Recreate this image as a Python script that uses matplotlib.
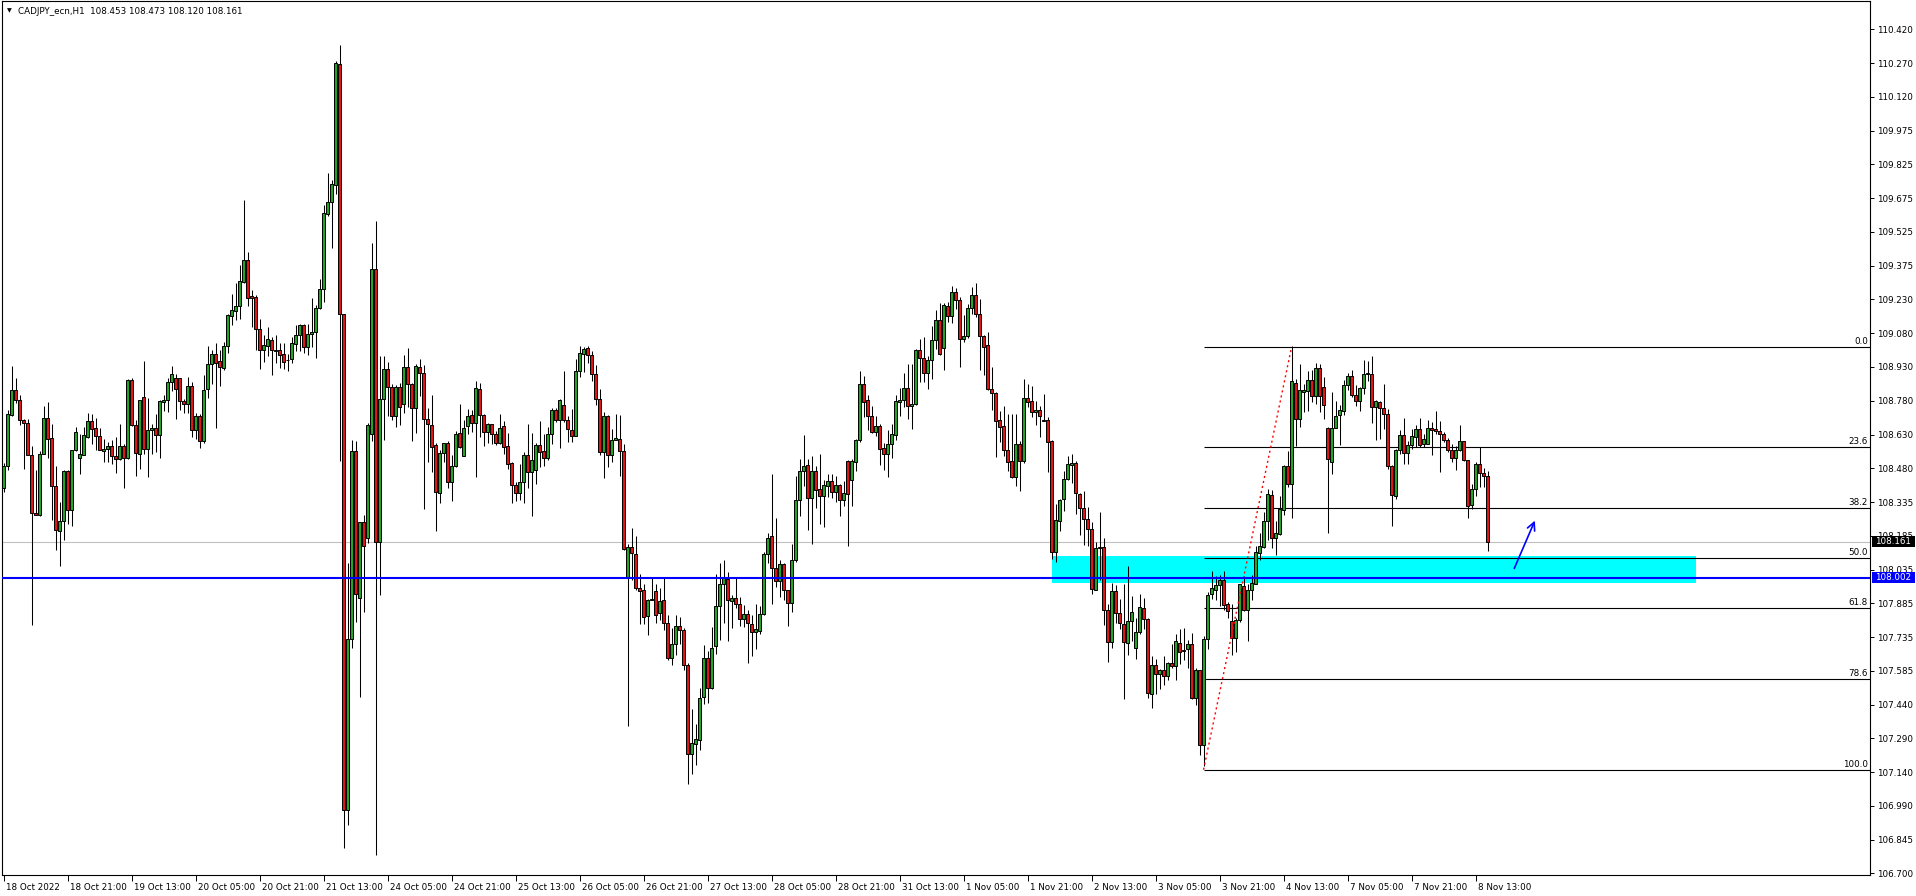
import numpy as np
import matplotlib
matplotlib.use("Agg")
import matplotlib.pyplot as plt
import matplotlib.transforms as mtransforms
from matplotlib.patches import Rectangle

# CADJPY_ecn H1 candles (one value per hourly bar)
title = "CADJPY_ecn,H1  108.453 108.473 108.120 108.161"

opens = [
    108.400, 108.494, 108.719, 108.832, 108.785, 108.697, 108.687, 108.546, 108.290, 108.281,
    108.550, 108.709, 108.621, 108.409, 108.208, 108.252, 108.475, 108.300, 108.565, 108.532,
    108.546, 108.624, 108.693, 108.665, 108.628, 108.562, 108.571, 108.582, 108.538, 108.527,
    108.585, 108.530, 108.876, 108.678, 108.550, 108.800, 108.572, 108.654, 108.665, 108.634,
    108.778, 108.785, 108.864, 108.885, 108.885, 108.781, 108.770, 108.847, 108.656, 108.717,
    108.606, 108.837, 108.947, 108.991, 108.957, 108.928, 109.023, 109.157, 109.179, 109.199,
    109.307, 109.402, 109.243, 109.241, 109.100, 109.009, 109.026, 109.049, 109.007, 109.007,
    108.991, 108.963, 108.967, 109.032, 109.075, 109.118, 109.019, 109.077, 109.084, 109.194,
    109.276, 109.605, 109.661, 109.732, 110.269, 109.166, 106.981, 107.733, 108.563, 107.916,
    108.250, 108.180, 108.636, 109.365, 108.161, 108.792, 108.921, 108.844, 108.717, 108.844,
    108.769, 108.932, 108.855, 108.750, 108.932, 108.904, 108.703, 108.678, 108.587, 108.378,
    108.554, 108.599, 108.425, 108.494, 108.643, 108.540, 108.672, 108.719, 108.685, 108.837,
    108.719, 108.645, 108.679, 108.638, 108.599, 108.670, 108.582, 108.510, 108.413, 108.377,
    108.425, 108.543, 108.469, 108.480, 108.587, 108.560, 108.531, 108.638, 108.741, 108.700,
    108.763, 108.700, 108.653, 108.628, 108.913, 108.991, 109.017, 108.983, 108.903, 108.792,
    108.557, 108.715, 108.546, 108.612, 108.616, 108.562, 108.006, 108.139, 108.109, 107.959,
    107.948, 107.834, 107.905, 107.943, 107.848, 107.904, 107.804, 107.650, 107.713, 107.789,
    107.771, 107.617, 107.228, 107.272, 107.287, 107.478, 107.651, 107.519, 107.701, 107.880,
    107.977, 107.999, 107.901, 107.915, 107.886, 107.823, 107.845, 107.798, 107.764, 107.768,
    107.842, 108.106, 108.186, 108.048, 107.989, 108.065, 107.951, 107.892, 108.083, 108.347,
    108.472, 108.499, 108.356, 108.472, 108.396, 108.363, 108.408, 108.428, 108.381, 108.413,
    108.347, 108.516, 108.435, 108.513, 108.612, 108.859, 108.788, 108.716, 108.645, 108.671,
    108.576, 108.550, 108.594, 108.634, 108.778, 108.785, 108.841, 108.759, 108.767, 109.008,
    108.972, 108.907, 108.964, 109.052, 109.141, 109.017, 109.199, 109.157, 109.263, 109.229,
    109.055, 109.067, 109.193, 109.248, 109.164, 109.067, 109.027, 108.836, 108.819, 108.697,
    108.671, 108.565, 108.516, 108.447, 108.591, 108.518, 108.797, 108.781, 108.734, 108.744,
    108.697, 108.697, 108.604, 108.117, 108.253, 108.349, 108.440, 108.502, 108.510, 108.371,
    108.312, 108.264, 108.219, 107.951, 108.139, 108.139, 107.860, 107.720, 107.943, 107.848,
    107.801, 107.717, 107.813, 107.695, 107.764, 107.871, 107.823, 107.492, 107.620, 107.578,
    107.598, 107.570, 107.627, 107.614, 107.717, 107.686, 107.691, 107.713, 107.473, 107.598,
    107.265, 107.735, 107.933, 107.951, 107.970, 107.992, 107.886, 107.811, 107.739, 107.815,
    107.965, 107.862, 107.948, 107.977, 108.112, 108.139, 108.253, 108.369, 108.178, 108.197,
    108.300, 108.494, 108.418, 108.863, 108.704, 108.822, 108.825, 108.876, 108.803, 108.929,
    108.844, 108.663, 108.513, 108.665, 108.719, 108.738, 108.851, 108.891, 108.810, 108.782,
    108.841, 108.900, 108.903, 108.756, 108.778, 108.753, 108.726, 108.494, 108.363, 108.565,
    108.634, 108.553, 108.590, 108.623, 108.657, 108.594, 108.594, 108.665, 108.657, 108.648,
    108.638, 108.609, 108.568, 108.531, 108.565, 108.604, 108.521, 108.322, 108.396, 108.503,
    108.466, 108.453,
]

highs = [
    108.509, 108.744, 108.935, 108.885, 108.807, 108.704, 108.704, 108.582, 108.477, 108.562,
    108.759, 108.778, 108.679, 108.494, 108.337, 108.480, 108.480, 108.565, 108.668, 108.638,
    108.668, 108.731, 108.726, 108.709, 108.665, 108.616, 108.601, 108.612, 108.624, 108.679,
    108.594, 108.881, 108.885, 108.700, 108.788, 108.957, 108.797, 108.682, 108.723, 108.785,
    108.807, 108.885, 108.935, 108.900, 108.885, 108.792, 108.888, 108.866, 108.729, 108.726,
    108.895, 109.023, 109.006, 109.038, 109.006, 109.042, 109.164, 109.252, 109.302, 109.380,
    109.669, 109.439, 109.270, 109.248, 109.143, 109.072, 109.108, 109.065, 109.072, 109.037,
    109.037, 108.991, 109.065, 109.118, 109.122, 109.122, 109.122, 109.236, 109.206, 109.318,
    109.645, 109.785, 109.757, 110.281, 110.351, 109.166, 108.068, 108.612, 108.605, 108.250,
    108.278, 108.687, 109.477, 109.575, 108.979, 108.979, 108.956, 108.855, 108.851, 108.862,
    108.986, 109.014, 108.862, 108.944, 108.967, 108.939, 108.750, 108.807, 108.597, 108.565,
    108.599, 108.606, 108.543, 108.650, 108.767, 108.700, 108.748, 108.741, 108.869, 108.862,
    108.723, 108.685, 108.682, 108.648, 108.723, 108.694, 108.643, 108.513, 108.425, 108.506,
    108.557, 108.679, 108.643, 108.599, 108.694, 108.635, 108.668, 108.753, 108.753, 108.789,
    108.913, 108.715, 108.745, 108.966, 109.025, 109.020, 109.023, 109.002, 108.939, 108.836,
    108.734, 108.719, 108.660, 108.723, 108.719, 108.594, 108.153, 108.224, 108.186, 108.021,
    107.977, 107.911, 108.003, 107.977, 107.958, 108.003, 107.837, 107.782, 107.837, 107.830,
    107.783, 107.627, 107.423, 107.360, 107.519, 107.705, 107.680, 107.786, 108.018, 108.068,
    108.080, 108.029, 107.929, 108.003, 107.918, 107.882, 107.863, 107.837, 107.886, 107.877,
    108.117, 108.200, 108.459, 108.268, 108.083, 108.068, 107.951, 108.150, 108.450, 108.525,
    108.631, 108.525, 108.538, 108.494, 108.547, 108.435, 108.462, 108.462, 108.450, 108.418,
    108.429, 108.521, 108.528, 108.616, 108.913, 108.891, 108.810, 108.759, 108.715, 108.679,
    108.597, 108.653, 108.679, 108.810, 108.841, 108.906, 108.944, 108.947, 109.010, 109.057,
    109.064, 108.979, 109.111, 109.185, 109.214, 109.216, 109.218, 109.287, 109.282, 109.240,
    109.160, 109.208, 109.285, 109.304, 109.233, 109.072, 109.086, 108.932, 108.822, 108.737,
    108.759, 108.723, 108.723, 108.723, 108.606, 108.880, 108.856, 108.847, 108.782, 108.759,
    108.814, 108.712, 108.609, 108.327, 108.352, 108.474, 108.538, 108.547, 108.516, 108.377,
    108.384, 108.315, 108.249, 108.161, 108.293, 108.180, 107.886, 107.980, 107.970, 107.911,
    107.977, 108.053, 107.921, 107.827, 107.933, 107.915, 107.827, 107.657, 107.647, 107.602,
    107.657, 107.632, 107.713, 107.754, 107.776, 107.783, 107.727, 107.760, 107.607, 107.598,
    107.745, 107.940, 108.031, 108.009, 108.014, 108.031, 107.896, 107.886, 107.827, 107.974,
    108.009, 107.974, 108.014, 108.142, 108.200, 108.293, 108.396, 108.388, 108.253, 108.363,
    108.499, 108.562, 109.023, 108.881, 108.944, 108.859, 108.913, 108.917, 108.951, 108.947,
    108.888, 108.668, 108.822, 108.782, 108.763, 108.873, 108.906, 108.917, 108.851, 108.844,
    108.964, 108.958, 108.979, 108.785, 108.782, 108.859, 108.748, 108.499, 108.572, 108.653,
    108.709, 108.604, 108.660, 108.675, 108.709, 108.635, 108.700, 108.690, 108.737, 108.694,
    108.646, 108.621, 108.594, 108.582, 108.675, 108.604, 108.521, 108.415, 108.513, 108.579,
    108.488, 108.473,
]

lows = [
    108.381, 108.480, 108.715, 108.773, 108.675, 108.484, 108.543, 107.794, 108.278, 108.274,
    108.547, 108.532, 108.256, 108.124, 108.053, 108.171, 108.242, 108.230, 108.560, 108.462,
    108.543, 108.619, 108.591, 108.568, 108.564, 108.513, 108.513, 108.503, 108.465, 108.524,
    108.400, 108.527, 108.670, 108.453, 108.482, 108.550, 108.447, 108.550, 108.557, 108.532,
    108.738, 108.734, 108.826, 108.704, 108.744, 108.729, 108.729, 108.624, 108.616, 108.576,
    108.597, 108.795, 108.858, 108.665, 108.848, 108.917, 108.994, 109.116, 109.141, 109.145,
    109.302, 109.199, 109.108, 109.006, 108.921, 108.956, 108.979, 108.897, 108.949, 108.926,
    108.921, 108.914, 108.949, 109.002, 109.002, 108.995, 108.984, 109.019, 108.972, 109.189,
    109.220, 109.598, 109.458, 109.696, 108.519, 106.813, 106.915, 107.694, 107.810, 107.479,
    107.853, 108.157, 108.605, 106.782, 107.927, 108.612, 108.717, 108.699, 108.668, 108.675,
    108.729, 108.757, 108.605, 108.640, 108.804, 108.308, 108.513, 108.469, 108.209, 108.333,
    108.513, 108.400, 108.341, 108.491, 108.577, 108.540, 108.638, 108.645, 108.447, 108.623,
    108.582, 108.597, 108.594, 108.587, 108.594, 108.550, 108.484, 108.333, 108.341, 108.344,
    108.333, 108.400, 108.274, 108.415, 108.491, 108.494, 108.521, 108.594, 108.690, 108.577,
    108.690, 108.601, 108.601, 108.628, 108.888, 108.910, 108.950, 108.870, 108.763, 108.543,
    108.443, 108.491, 108.513, 108.609, 108.452, 108.127, 107.348, 107.995, 107.948, 107.798,
    107.801, 107.749, 107.904, 107.804, 107.815, 107.771, 107.642, 107.620, 107.661, 107.713,
    107.595, 107.096, 107.140, 107.176, 107.246, 107.448, 107.451, 107.514, 107.666, 107.730,
    107.804, 107.724, 107.782, 107.870, 107.791, 107.786, 107.627, 107.658, 107.688, 107.754,
    107.837, 108.068, 107.886, 107.962, 107.918, 107.907, 107.791, 107.852, 108.073, 108.274,
    108.406, 108.212, 108.153, 108.312, 108.239, 108.227, 108.359, 108.355, 108.337, 108.275,
    108.319, 108.142, 108.319, 108.474, 108.601, 108.712, 108.653, 108.641, 108.626, 108.499,
    108.477, 108.447, 108.531, 108.609, 108.716, 108.756, 108.704, 108.660, 108.763, 108.866,
    108.866, 108.836, 108.881, 109.013, 108.983, 108.920, 109.130, 109.127, 109.186, 108.932,
    109.042, 109.060, 109.167, 109.152, 108.917, 108.898, 108.832, 108.741, 108.535, 108.601,
    108.538, 108.472, 108.443, 108.406, 108.385, 108.509, 108.756, 108.712, 108.675, 108.623,
    108.694, 108.469, 108.087, 108.073, 108.209, 108.297, 108.433, 108.421, 108.286, 108.190,
    108.149, 108.142, 107.933, 107.948, 107.995, 107.793, 107.632, 107.695, 107.804, 107.779,
    107.470, 107.661, 107.724, 107.646, 107.757, 107.779, 107.473, 107.429, 107.492, 107.514,
    107.529, 107.551, 107.607, 107.554, 107.624, 107.639, 107.607, 107.469, 107.444, 107.220,
    107.175, 107.691, 107.911, 107.907, 107.877, 107.862, 107.827, 107.664, 107.676, 107.808,
    107.857, 107.724, 107.907, 107.974, 108.080, 108.136, 108.168, 108.136, 108.105, 108.190,
    108.278, 108.403, 108.266, 108.582, 108.668, 108.734, 108.737, 108.778, 108.767, 108.734,
    108.704, 108.202, 108.459, 108.663, 108.587, 108.719, 108.832, 108.800, 108.759, 108.738,
    108.811, 108.870, 108.685, 108.609, 108.613, 108.660, 108.484, 108.231, 108.352, 108.547,
    108.506, 108.506, 108.572, 108.579, 108.579, 108.579, 108.591, 108.543, 108.635, 108.469,
    108.601, 108.557, 108.513, 108.480, 108.562, 108.516, 108.266, 108.308, 108.362, 108.403,
    108.403, 108.120,
]

closes = [
    108.494, 108.726, 108.832, 108.785, 108.697, 108.687, 108.546, 108.290, 108.281, 108.550,
    108.709, 108.616, 108.409, 108.212, 108.252, 108.472, 108.300, 108.565, 108.646, 108.550,
    108.631, 108.693, 108.660, 108.628, 108.564, 108.572, 108.582, 108.541, 108.527, 108.585,
    108.530, 108.876, 108.675, 108.553, 108.788, 108.572, 108.656, 108.665, 108.634, 108.781,
    108.785, 108.864, 108.903, 108.837, 108.781, 108.770, 108.848, 108.656, 108.717, 108.606,
    108.832, 108.947, 108.991, 108.951, 108.932, 109.023, 109.160, 109.182, 109.199, 109.310,
    109.402, 109.238, 109.236, 109.100, 109.007, 109.030, 109.054, 109.009, 109.002, 108.986,
    108.956, 108.961, 109.037, 109.075, 109.118, 109.019, 109.079, 109.084, 109.194, 109.276,
    109.610, 109.661, 109.739, 110.271, 109.166, 106.981, 107.733, 108.563, 107.932, 108.250,
    108.145, 108.675, 109.365, 108.161, 108.792, 108.921, 108.844, 108.717, 108.844, 108.757,
    108.932, 108.855, 108.750, 108.937, 108.904, 108.703, 108.679, 108.579, 108.381, 108.554,
    108.599, 108.425, 108.494, 108.638, 108.579, 108.665, 108.715, 108.685, 108.841, 108.719,
    108.645, 108.682, 108.638, 108.599, 108.665, 108.579, 108.506, 108.413, 108.377, 108.425,
    108.543, 108.469, 108.521, 108.587, 108.557, 108.531, 108.638, 108.741, 108.700, 108.785,
    108.700, 108.657, 108.628, 108.913, 108.995, 109.013, 108.983, 108.903, 108.792, 108.557,
    108.715, 108.546, 108.612, 108.621, 108.562, 108.131, 108.139, 108.112, 107.958, 107.945,
    107.830, 107.907, 107.911, 107.840, 107.899, 107.804, 107.650, 107.713, 107.789, 107.771,
    107.620, 107.228, 107.276, 107.291, 107.475, 107.651, 107.519, 107.695, 107.880, 107.977,
    108.002, 107.904, 107.915, 107.886, 107.823, 107.845, 107.804, 107.764, 107.776, 107.845,
    108.106, 108.180, 108.048, 107.989, 108.065, 107.951, 107.892, 108.083, 108.347, 108.472,
    108.494, 108.356, 108.472, 108.391, 108.363, 108.410, 108.428, 108.381, 108.410, 108.347,
    108.378, 108.374, 108.516, 108.612, 108.859, 108.778, 108.716, 108.645, 108.671, 108.572,
    108.550, 108.594, 108.635, 108.781, 108.785, 108.841, 108.759, 108.767, 109.005, 108.972,
    108.907, 108.964, 109.052, 109.141, 108.991, 109.204, 109.157, 109.263, 109.229, 109.057,
    109.067, 109.193, 109.248, 109.164, 109.067, 109.020, 108.836, 108.819, 108.694, 108.668,
    108.565, 108.513, 108.447, 108.591, 108.518, 108.797, 108.778, 108.734, 108.744, 108.716,
    108.694, 108.601, 108.117, 108.256, 108.347, 108.440, 108.506, 108.510, 108.377, 108.312,
    108.264, 108.219, 107.955, 108.136, 108.136, 107.860, 107.720, 107.943, 107.848, 107.804,
    107.720, 107.813, 107.852, 107.764, 107.874, 107.823, 107.495, 107.620, 107.580, 107.598,
    107.570, 107.627, 107.613, 107.723, 107.676, 107.680, 107.713, 107.473, 107.598, 107.265,
    107.735, 107.929, 107.958, 107.973, 107.992, 107.882, 107.857, 107.739, 107.815, 107.974,
    107.862, 107.948, 107.980, 108.117, 108.142, 108.253, 108.371, 108.180, 108.202, 108.305,
    108.494, 108.418, 108.869, 108.704, 108.829, 108.829, 108.876, 108.803, 108.929, 108.803,
    108.763, 108.528, 108.665, 108.715, 108.741, 108.851, 108.891, 108.810, 108.782, 108.841,
    108.900, 108.907, 108.756, 108.781, 108.751, 108.726, 108.494, 108.369, 108.565, 108.634,
    108.553, 108.590, 108.626, 108.660, 108.587, 108.613, 108.665, 108.656, 108.650, 108.638,
    108.609, 108.568, 108.531, 108.565, 108.604, 108.521, 108.319, 108.396, 108.503, 108.465,
    108.452, 108.161,
]

# time axis: one label every 16 bars
time_labels = [
    "18 Oct 2022", "18 Oct 21:00", "19 Oct 13:00", "20 Oct 05:00", "20 Oct 21:00",
    "21 Oct 13:00", "24 Oct 05:00", "24 Oct 21:00", "25 Oct 13:00", "26 Oct 05:00",
    "26 Oct 21:00", "27 Oct 13:00", "28 Oct 05:00", "28 Oct 21:00", "31 Oct 13:00",
    "1 Nov 05:00", "1 Nov 21:00", "2 Nov 13:00", "3 Nov 05:00", "3 Nov 21:00",
    "4 Nov 13:00", "7 Nov 05:00", "7 Nov 21:00", "8 Nov 13:00",
]
bars_per_label = 16

price_labels = [
    "106.700", "106.845", "106.990", "107.140", "107.290", "107.440", "107.585",
    "107.735", "107.885", "108.035", "108.185", "108.335", "108.480", "108.630",
    "108.780", "108.930", "109.080", "109.230", "109.375", "109.525", "109.675",
    "109.825", "109.975", "110.120", "110.270", "110.420",
]

# fibonacci retracement drawn from the 3 Nov low to the 4 Nov high
fib_low, fib_high = 107.157, 109.020
fib_low_bar, fib_high_bar = 300, 322
fib_ratios = [0.0, 23.6, 38.2, 50.0, 61.8, 78.6, 100.0]

bid_price = 108.161
support_price = 108.002
zone_bars = (262, 423)
zone_prices = (107.980, 108.098)
arrow_from = (377.4, 108.033)
arrow_to = (383.1, 108.266)

W, H = 1916, 896
FS = 6.3
plt.rcParams["font.family"] = ["DejaVu Sans"]

fig = plt.figure(figsize=(W / 100, H / 100), dpi=100)
fig.patch.set_facecolor("white")
ax = fig.add_axes([2 / W, 21 / H, 1868 / W, 874 / H])

o = np.array(opens)
hi = np.array(highs)
lo = np.array(lows)
c = np.array(closes)
x = np.arange(len(c))

x_left, x_right = -0.375, 466.6
y_low, y_high = 106.693, 110.545
ax.set_xlim(x_left, x_right)
ax.set_ylim(y_low, y_high)

# background objects
ax.add_patch(Rectangle((zone_bars[0], zone_prices[0]), zone_bars[1] - zone_bars[0],
                       zone_prices[1] - zone_prices[0], fc="#00ffff", ec="none", zorder=1))
ax.axhline(bid_price, color="#c0c0c0", lw=0.8, zorder=1.5)

levels = [fib_high - r / 100.0 * (fib_high - fib_low) for r in fib_ratios]
ax.hlines(levels, fib_low_bar, x_right, color="black", lw=0.8, zorder=1.8)
lift = mtransforms.offset_copy(ax.transData, fig=fig, x=-2, y=1, units="dots")
for r, lv in zip(fib_ratios, levels):
    ax.text(x_right, lv, f"{r:.1f}", transform=lift, ha="right", va="bottom",
            fontsize=FS, color="black", zorder=6)

# candles
up = c >= o
body_lo = np.minimum(o, c)
body_h = np.maximum(np.abs(c - o), 0.002)
ax.vlines(x, lo, hi, color="black", lw=0.75, zorder=3)
ax.bar(x[up], body_h[up], bottom=body_lo[up], width=0.55, color="#22a522",
       edgecolor="black", linewidth=0.7, zorder=4)
ax.bar(x[~up], body_h[~up], bottom=body_lo[~up], width=0.55, color="#e31414",
       edgecolor="black", linewidth=0.7, zorder=4)

# foreground objects
ax.plot([fib_low_bar, fib_high_bar], [fib_low, fib_high], color="red",
        ls=(0, (1.5, 2.2)), lw=1.0, zorder=5)
ax.axhline(support_price, color="#0000ff", lw=1.5, zorder=5)
ax.annotate("", xy=arrow_to, xytext=arrow_from,
            arrowprops=dict(arrowstyle="->", color="#0000ff", lw=1.2, mutation_scale=14),
            zorder=6)

# axes
for s in ax.spines.values():
    s.set_color("black")
    s.set_linewidth(0.8)

ax.yaxis.tick_right()
ax.set_yticks(np.linspace(float(price_labels[0]), float(price_labels[-1]), len(price_labels)))
ax.set_yticklabels(price_labels)
ax.tick_params(axis="y", length=3, width=0.7, pad=2, labelsize=FS, colors="black")

ax.set_xticks(np.arange(len(time_labels)) * bars_per_label)
ax.set_xticklabels(time_labels)
ax.tick_params(axis="x", length=4, width=0.7, pad=1.5, labelsize=FS, colors="black")
shift = mtransforms.ScaledTranslation(2 / 100, 0, fig.dpi_scale_trans)
for lab in ax.get_xticklabels():
    lab.set_horizontalalignment("left")
    lab.set_transform(lab.get_transform() + shift)

# price tags on the right scale: a filled box that covers the scale label under it
ytr = ax.get_yaxis_transform()
ax_w_px = 1868.0
tag_h = 11.0 / 874.0 * (y_high - y_low)
for price, bg in [(bid_price, "black"), (support_price, "#0000ff")]:
    ax.add_patch(Rectangle((1.5 / ax_w_px + 1.0, price - tag_h / 2), 43.0 / ax_w_px, tag_h,
                           transform=ytr, fc=bg, ec="none", clip_on=False, zorder=9))
    ax.text(1.0 + 5.5 / ax_w_px, price, f"{price:.3f}", transform=ytr, ha="left",
            va="center", fontsize=FS, color="white", clip_on=False, zorder=10)

# header
fig.text(9 / W, 1 - 11 / H, "\u25bc", fontsize=4.5, ha="center", va="center", color="black")
fig.text(18 / W, 1 - 11 / H, title, fontsize=FS, ha="left", va="center", color="black")

fig.savefig("out.png", dpi=100, facecolor="white")
